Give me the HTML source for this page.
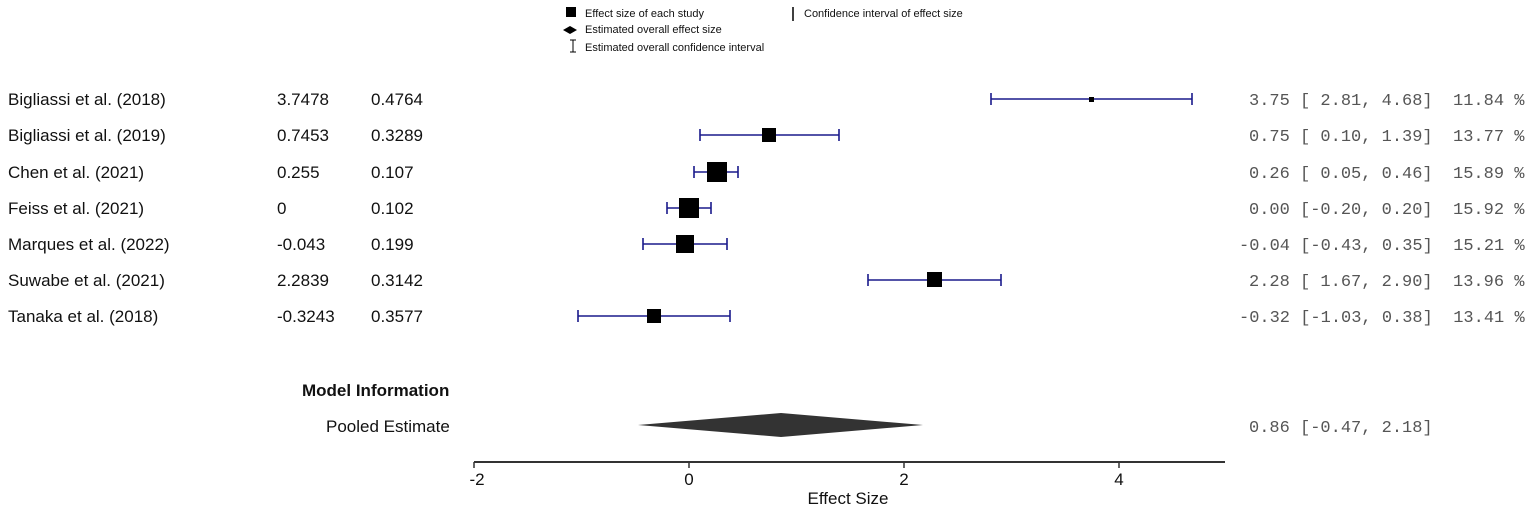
<!DOCTYPE html>
<html><head><meta charset="utf-8"><style>
html,body{margin:0;padding:0;background:#fff;}
svg{display:block}
</style></head><body>
<svg width="1535" height="511" xmlns="http://www.w3.org/2000/svg">
<g font-family="Liberation Sans, sans-serif" font-size="11" fill="#111">
<rect x="566" y="7" width="10" height="10" fill="#000"/>
<text x="585" y="17">Effect size of each study</text>
<polygon points="563,30 570,26 577,30 570,34" fill="#000"/>
<text x="585" y="33">Estimated overall effect size</text>
<path d="M573,40 v12 M570,40 h6 M570,52 h6" stroke="#000" stroke-width="1"/>
<text x="585" y="51">Estimated overall confidence interval</text>
<path d="M793,7 v14" stroke="#000" stroke-width="1.5"/>
<text x="804" y="17">Confidence interval of effect size</text>
</g>
<g font-family="Liberation Sans, sans-serif" font-size="17" fill="#111">
<text x="8" y="105">Bigliassi et al. (2018)</text><text x="277" y="105">3.7478</text><text x="371" y="105">0.4764</text>
<text x="8" y="141">Bigliassi et al. (2019)</text><text x="277" y="141">0.7453</text><text x="371" y="141">0.3289</text>
<text x="8" y="178">Chen et al. (2021)</text><text x="277" y="178">0.255</text><text x="371" y="178">0.107</text>
<text x="8" y="214">Feiss et al. (2021)</text><text x="277" y="214">0</text><text x="371" y="214">0.102</text>
<text x="8" y="250">Marques et al. (2022)</text><text x="277" y="250">-0.043</text><text x="371" y="250">0.199</text>
<text x="8" y="286">Suwabe et al. (2021)</text><text x="277" y="286">2.2839</text><text x="371" y="286">0.3142</text>
<text x="8" y="322">Tanaka et al. (2018)</text><text x="277" y="322">-0.3243</text><text x="371" y="322">0.3577</text>
<text x="302" y="396" font-weight="bold">Model Information</text>
<text x="326" y="432">Pooled Estimate</text>
</g>
<g stroke="#1a1a8c" stroke-width="1.6" fill="none">
<path d="M991,99 H1192 M991,93 v12 M1192,93 v12"/>
<path d="M700,135 H839 M700,129 v12 M839,129 v12"/>
<path d="M694,172 H738 M694,166 v12 M738,166 v12"/>
<path d="M667,208 H711 M667,202 v12 M711,202 v12"/>
<path d="M643,244 H727 M643,238 v12 M727,238 v12"/>
<path d="M868,280 H1001 M868,274 v12 M1001,274 v12"/>
<path d="M578,316 H730 M578,310 v12 M730,310 v12"/>
</g>
<g fill="#000">
<rect x="1089" y="97" width="5" height="5"/>
<rect x="762" y="128" width="14" height="14"/>
<rect x="707" y="162" width="20" height="20"/>
<rect x="679" y="198" width="20" height="20"/>
<rect x="676" y="235" width="18" height="18"/>
<rect x="927" y="272" width="15" height="15"/>
<rect x="647" y="309" width="14" height="14"/>
</g>
<polygon points="638,425 781,413 923,425 781,437" fill="#333"/>
<path d="M474,462 H1225" stroke="#333" stroke-width="2"/>
<path d="M474,462 v6 M689,462 v6 M904,462 v6 M1119,462 v6" stroke="#333" stroke-width="1.5"/>
<g font-family="Liberation Sans, sans-serif" font-size="17" fill="#111" text-anchor="middle">
<text x="477" y="485">-2</text><text x="689" y="485">0</text><text x="904" y="485">2</text><text x="1119" y="485">4</text>
<text x="848" y="504">Effect Size</text>
</g>
<g font-family="Liberation Mono, monospace" font-size="17" fill="#555">
<text x="1249" y="105">3.75 [ 2.81, 4.68]&#160;&#160;11.84 %</text>
<text x="1249" y="141">0.75 [ 0.10, 1.39]&#160;&#160;13.77 %</text>
<text x="1249" y="178">0.26 [ 0.05, 0.46]&#160;&#160;15.89 %</text>
<text x="1249" y="214">0.00 [-0.20, 0.20]&#160;&#160;15.92 %</text>
<text x="1239" y="250">-0.04 [-0.43, 0.35]&#160;&#160;15.21 %</text>
<text x="1249" y="286">2.28 [ 1.67, 2.90]&#160;&#160;13.96 %</text>
<text x="1239" y="322">-0.32 [-1.03, 0.38]&#160;&#160;13.41 %</text>
<text x="1249" y="432">0.86 [-0.47, 2.18]</text>
</g>
</svg>
</body></html>
